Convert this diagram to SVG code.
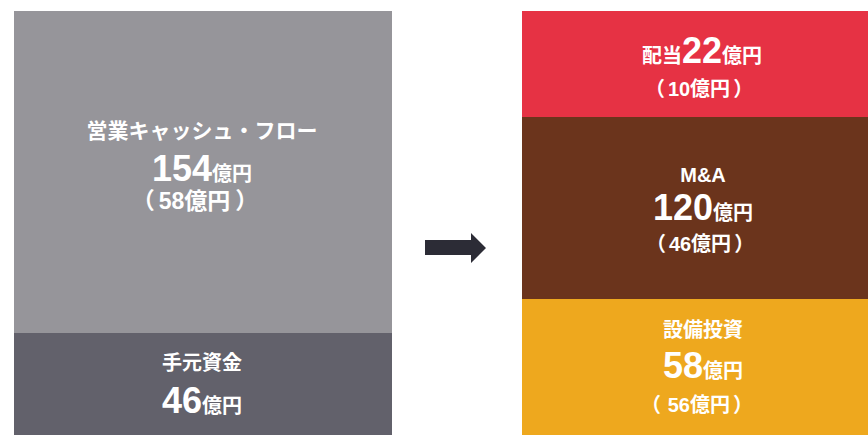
<svg xmlns="http://www.w3.org/2000/svg" width="868" height="435" viewBox="0 0 868 435">
<style>
.t{font-family:"Liberation Sans","Noto Sans CJK JP",sans-serif;font-weight:bold;fill:#ffffff;text-anchor:middle}
.lbl{font-size:20px}
.big{font-size:36px}
.unit{font-size:20px}
.sub{font-size:20px}
.subL{font-size:23px}
</style>
<rect width="868" height="435" fill="#ffffff"/>
<g id="op-cf">
<rect x="14" y="11" width="378" height="322" fill="#96959a"/>
<text class="t" x="202" y="138" font-size="21">営業キャッシュ・フロー</text>
<text class="t" x="202" y="181"><tspan class="big">154</tspan><tspan class="unit">億円</tspan></text>
<text class="t subL" x="195" y="209">（<tspan dx="4">58億円</tspan><tspan dx="5">）</tspan></text>
</g>
<g id="cash">
<rect x="14" y="333" width="378" height="102" fill="#62616b"/>
<text class="t lbl" x="202" y="370">手元資金</text>
<text class="t" x="202" y="413"><tspan class="big">46</tspan><tspan class="unit">億円</tspan></text>
</g>
<g id="connectors">
<polygon points="425,240 471,240 471,233 486,248 471,263 471,255 425,255" fill="#2c2c36"/>
</g>
<g id="dividend">
<rect x="522" y="11" width="346" height="106" fill="#e63244"/>
<text class="t" x="702" y="63"><tspan class="unit">配当</tspan><tspan class="big">22</tspan><tspan class="unit">億円</tspan></text>
<text class="t sub" x="699" y="96">（<tspan dx="3">10億円</tspan><tspan dx="3">）</tspan></text>
</g>
<g id="ma">
<rect x="522" y="117" width="346" height="182" fill="#6b341c"/>
<text class="t lbl" x="703" y="182">M&amp;A</text>
<text class="t" x="703" y="220"><tspan class="big">120</tspan><tspan class="unit">億円</tspan></text>
<text class="t sub" x="700" y="251">（<tspan dx="3">46億円</tspan><tspan dx="3">）</tspan></text>
</g>
<g id="capex">
<rect x="522" y="299" width="346" height="136" fill="#eea81e"/>
<text class="t lbl" x="703" y="337">設備投資</text>
<text class="t" x="703" y="378"><tspan class="big">58</tspan><tspan class="unit">億円</tspan></text>
<text class="t sub" x="697" y="412">（<tspan dx="1"> 56億円</tspan><tspan dx="3">）</tspan></text>
</g>
</svg>
